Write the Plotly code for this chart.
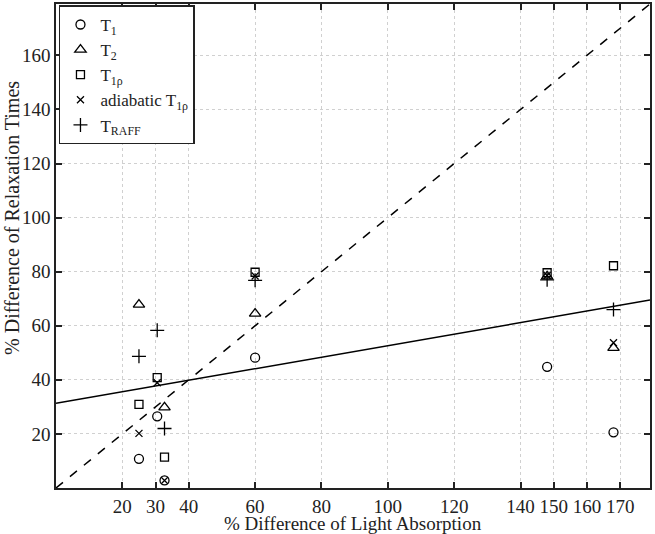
import plotly.graph_objects as go

# data
t1_x = [25, 30.5, 32.7, 60, 148, 168]
t1_y = [10.8, 26.5, 2.8, 48.2, 44.8, 20.6]

t2_x = [25, 32.7, 60, 148, 168]
t2_y = [67.8, 29.8, 64.5, 78.3, 51.8]

t1rho_x = [25, 30.5, 32.7, 60, 148, 168]
t1rho_y = [30.9, 40.8, 11.4, 79.8, 79.6, 82.2]

adiab_x = [25, 30.5, 32.7, 60, 148, 168]
adiab_y = [20.2, 38.9, 2.8, 78.4, 78.6, 53.7]

raff_x = [25, 30.5, 32.7, 60, 148, 168]
raff_y = [48.7, 58.3, 22.0, 76.8, 77.0, 66.0]

fit_x = [0, 179]
fit_y = [31.3, 69.5]

ident_x = [0, 179]
ident_y = [0, 179]

x_ticks = [20, 30, 40, 60, 80, 100, 120, 140, 150, 160, 170]
y_ticks = [20, 40, 60, 80, 100, 120, 140, 160]

FONT = "Liberation Serif"

fig = go.Figure()

series = [
    ("T<sub>1</sub>", t1_x, t1_y, "circle-open", 9),
    ("T<sub>2</sub>", t2_x, t2_y, "triangle-up-open", 10),
    ("T<sub>1ρ</sub>", t1rho_x, t1rho_y, "square-open", 8),
    ("adiabatic T<sub>1ρ</sub>", adiab_x, adiab_y, "x-thin-open", 7),
    ("T<sub>RAFF</sub>", raff_x, raff_y, "cross-thin-open", 10),
]
for name, xs, ys, sym, sz in series:
    fig.add_trace(go.Scatter(
        x=xs, y=ys, mode="markers", name=name,
        marker=dict(symbol=sym, size=sz, color="black",
                    line=dict(color="black", width=1.3)),
    ))

fig.add_trace(go.Scatter(x=fit_x, y=fit_y, mode="lines", showlegend=False,
                         line=dict(color="black", width=1.5)))
fig.add_trace(go.Scatter(x=ident_x, y=ident_y, mode="lines", showlegend=False,
                         line=dict(color="black", width=1.5, dash="dash")))

axis_common = dict(
    showline=True, linecolor="#222", linewidth=1.5, mirror="ticks",
    ticks="inside", ticklen=6, tickcolor="#222", tickwidth=1.5,
    showgrid=True, gridcolor="#d0d0d0", griddash="dot", gridwidth=1,
    zeroline=False, automargin=False, tickangle=0,
    tickfont=dict(family=FONT, size=19, color="#222"),
)

fig.update_xaxes(
    range=[0, 179], tickvals=x_ticks, ticktext=[str(v) for v in x_ticks],
    **axis_common,
)
fig.update_yaxes(
    range=[0, 179], tickvals=y_ticks, ticktext=[str(v) for v in y_ticks],
    **axis_common,
)

fig.add_annotation(
    text="% Difference of Light Absorption",
    xref="paper", yref="paper", x=0.5, y=0, xanchor="center", yanchor="middle",
    yshift=-35, showarrow=False,
    font=dict(family=FONT, size=19, color="#222"),
)
fig.add_annotation(
    text="% Difference of Relaxation Times", textangle=-90,
    xref="paper", yref="paper", x=0, y=0.558, xanchor="center", yanchor="middle",
    xshift=-44, showarrow=False,
    font=dict(family=FONT, size=20, color="#222"),
)

fig.update_layout(
    width=655, height=534,
    margin=dict(l=56, r=5, t=4, b=46),
    paper_bgcolor="white", plot_bgcolor="white",
    font=dict(family=FONT, color="#222"),
    legend=dict(
        x=0.005, y=0.997, xanchor="left", yanchor="top",
        bordercolor="#222", borderwidth=1.5, bgcolor="white",
        font=dict(family=FONT, size=17, color="#222"),
        tracegroupgap=0, itemwidth=30,
    ),
)

fig.write_html("out.html", config={"displayModeBar": False},
               post_script="document.body.style.margin='0';")
